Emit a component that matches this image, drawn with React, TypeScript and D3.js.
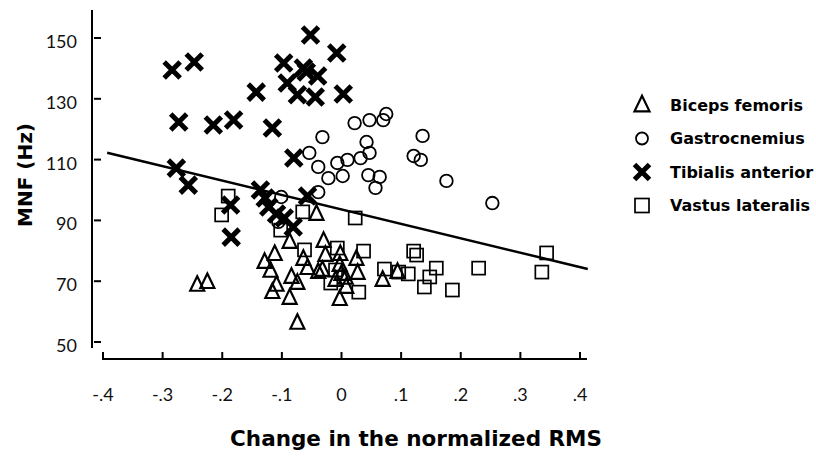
import React from 'react';
import * as d3 from 'd3';

// values: [change in normalized RMS, MNF (Hz)]
const bicepsFemoris: [number, number][] = [
  [-0.242, 68.8], [-0.225, 69.7], [-0.042, 92.1], [-0.087, 82.9], [-0.112, 78.9],
  [-0.129, 76.3], [-0.119, 73.4], [-0.03, 83.2], [-0.064, 77.3], [-0.027, 78.6],
  [-0.057, 74.3], [-0.039, 73.0], [-0.084, 71.4], [-0.074, 69.4], [-0.109, 68.8],
  [-0.116, 66.4], [-0.087, 64.5], [-0.074, 56.3], [-0.002, 78.9], [0.025, 77.3],
  [-0.003, 75.3], [0.027, 72.7], [0.0, 72.4], [0.008, 68.1], [-0.003, 64.1],
  [0.069, 70.4], [0.094, 73.0], [-0.032, 73.7], [-0.01, 70.4], [0.007, 71.1],
];

const gastrocnemius: [number, number][] = [
  [0.075, 125.0], [0.07, 123.0], [0.047, 123.0], [0.022, 122.0], [0.136, 117.8],
  [-0.032, 117.4], [0.042, 115.8], [0.047, 112.2], [0.032, 110.5], [0.01, 109.9],
  [-0.007, 108.9], [-0.054, 112.2], [0.121, 111.2], [0.133, 109.9], [-0.039, 107.6],
  [-0.022, 103.9], [0.002, 104.6], [0.045, 104.9], [0.064, 104.3], [0.057, 100.7],
  [0.176, 103.0], [0.253, 95.7], [-0.039, 99.3], [-0.101, 97.7], [-0.106, 89.5],
];

const tibialisAnterior: [number, number][] = [
  [-0.284, 139.5], [-0.247, 142.1], [-0.143, 132.2], [-0.273, 122.4], [-0.215, 121.4],
  [-0.181, 123.0], [-0.116, 120.4], [-0.277, 107.2], [-0.257, 101.6], [-0.186, 95.1],
  [-0.185, 84.5], [-0.052, 151.0], [-0.008, 145.1], [-0.097, 141.8], [-0.064, 140.1],
  [-0.059, 138.8], [-0.04, 137.5], [-0.091, 135.2], [-0.074, 131.3], [-0.044, 130.6],
  [0.003, 131.6], [-0.136, 100.0], [-0.128, 97.4], [-0.122, 94.4], [-0.109, 92.1],
  [-0.096, 90.8], [-0.081, 87.8], [-0.057, 98.0], [-0.08, 110.5],
];

const vastusLateralis: [number, number][] = [
  [-0.19, 98.0], [-0.201, 91.8], [-0.065, 92.8], [0.023, 90.8], [-0.102, 86.8],
  [-0.062, 80.3], [-0.007, 80.9], [0.037, 79.9], [0.121, 79.9], [0.126, 78.6],
  [0.072, 74.0], [0.096, 73.0], [0.112, 72.4], [0.159, 74.3], [0.148, 71.4],
  [0.139, 68.1], [0.186, 67.1], [0.23, 74.3], [0.344, 79.3], [0.336, 73.0],
  [-0.018, 69.4], [0.029, 66.4], [-0.01, 73.7],
];

// regression line MNF = a + b * x, drawn over the x range below
const fitIntercept = 93.6;
const fitSlope = -47.4;
const fitRange = [-0.393, 0.413];

const xTicks = [-0.4, -0.3, -0.2, -0.1, 0, 0.1, 0.2, 0.3, 0.4];
const xTickLabels = ['-.4', '-.3', '-.2', '-.1', '0', '.1', '.2', '.3', '.4'];
const yTicks = [50, 70, 90, 110, 130, 150];

const legendNames = ['Biceps femoris', 'Gastrocnemius', 'Tibialis anterior', 'Vastus lateralis'];

const x = d3.scaleLinear().domain([-0.4, 0.4]).range([103, 580]);
const y = d3.scaleLinear().domain([50, 150]).range([342, 38]);

const triPath = (cx: number, cy: number, s: number) =>
  `M${cx},${cy - s * 0.62}L${cx + s / 2},${cy + s * 0.42}L${cx - s / 2},${cy + s * 0.42}Z`;
const crossPath = (cx: number, cy: number, s: number) =>
  `M${cx - s / 2},${cy - s / 2}L${cx + s / 2},${cy + s / 2}M${cx + s / 2},${cy - s / 2}L${cx - s / 2},${cy + s / 2}`;

const Marker = ({ kind, cx, cy, big = false }: { kind: number; cx: number; cy: number; big?: boolean }) => {
  if (kind === 0)
    return <path d={triPath(cx, cy, big ? 15 : 14)} fill="none" stroke="#000" strokeWidth={2.2} strokeLinejoin="miter" />;
  if (kind === 1)
    return <circle cx={cx} cy={cy} r={big ? 6 : 6.3} fill="none" stroke="#000" strokeWidth={1.8} />;
  if (kind === 2)
    return <path d={crossPath(cx, cy, big ? 15 : 16)} fill="none" stroke="#000" strokeWidth={5} />;
  const s = big ? 14 : 13;
  return <rect x={cx - s / 2} y={cy - s / 2} width={s} height={s} fill="none" stroke="#000" strokeWidth={1.7} />;
};

const App = () => {
  const series = [bicepsFemoris, gastrocnemius, tibialisAnterior, vastusLateralis];
  const fitLine = d3.line<number>()
    .x(d => x(d))
    .y(d => y(fitIntercept + fitSlope * d));
  const tickFont = 'Lato, "Open Sans", sans-serif';
  const boldFont = '"DejaVu Sans", sans-serif';

  return (
    <svg width={816} height={460} style={{ position: 'absolute', left: 0, top: 0, background: '#fff' }}>
      {/* y axis */}
      <line x1={92} x2={92} y1={10} y2={348} stroke="#000" strokeWidth={2} />
      {yTicks.map(t => (
        <g key={t}>
          <line x1={94} x2={101} y1={y(t)} y2={y(t)} stroke="#000" strokeWidth={2} />
          <text x={77} y={y(t) + 3} textAnchor="end" dominantBaseline="central"
            fontFamily={tickFont} fontSize={18} fill="#111">{t}</text>
        </g>
      ))}
      <text transform="translate(25,175) rotate(-90)" textAnchor="middle" dominantBaseline="central"
        fontFamily={boldFont} fontWeight="bold" fontSize={20} fill="#000">MNF (Hz)</text>

      {/* x axis */}
      <line x1={102} x2={587} y1={359} y2={359} stroke="#000" strokeWidth={2} />
      {xTicks.map((t, i) => (
        <g key={t}>
          <line x1={x(t)} x2={x(t)} y1={352} y2={359} stroke="#000" strokeWidth={2} />
          <text x={x(t)} y={394} textAnchor="middle" dominantBaseline="central"
            fontFamily={tickFont} fontSize={18} fill="#111">{xTickLabels[i]}</text>
        </g>
      ))}
      <text x={416} y={438} textAnchor="middle" dominantBaseline="central"
        fontFamily={boldFont} fontWeight="bold" fontSize={21.5} fill="#000">Change in the normalized RMS</text>

      {/* regression line */}
      <path d={fitLine(fitRange) ?? ''} fill="none" stroke="#000" strokeWidth={2.5} />

      {/* points */}
      {series.map((pts, k) => (
        <g key={k}>
          {pts.map((p, i) => <Marker key={i} kind={k} cx={x(p[0])} cy={y(p[1])} />)}
        </g>
      ))}

      {/* legend */}
      {legendNames.map((name, k) => (
        <g key={name} transform={`translate(0,${105 + k * 33.5})`}>
          <Marker kind={k} cx={642} cy={0} big />
          <text x={670} y={0} dominantBaseline="central" fontFamily={boldFont} fontWeight="bold"
            fontSize={16} fill="#000">{name}</text>
        </g>
      ))}
    </svg>
  );
};

export default App;
